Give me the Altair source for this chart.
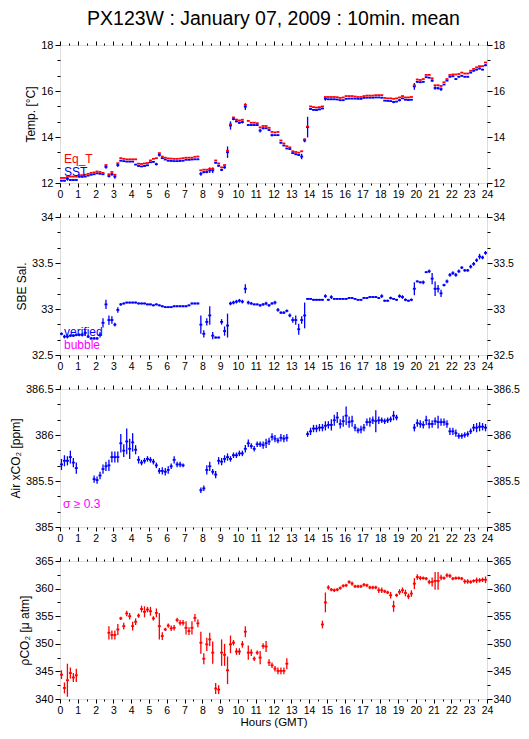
import altair as alt
import pandas as pd

FONT = "Liberation Sans"
RED = "#ff0000"
BLUE = "#0000ff"
MAGENTA = "#ff00ff"

# 10-minute slots (centres), hours GMT
HOURS = [(i + 0.5) / 6 for i in range(144)]
N = None

SST = [
    12.10, 12.10, 12.18, 12.13, 12.13, 12.13,
    12.27, 12.27, 12.28, 12.32, 12.36, 12.38,
    12.42, 12.40, 12.38, 12.70, 12.30, 12.38,
    12.28, 12.78, 12.97, 12.95, 12.93, 12.93,
    12.93, 12.80, 12.74, 12.72, 12.74, 12.77,
    12.90, 12.92, 12.82, 13.22, 13.08, 13.02,
    12.97, 12.96, 12.95, 12.95, 12.96, 12.97,
    13.01, 13.01, 13.02, 13.03, 13.03, 12.40,
    12.47, 12.48, 12.55, 12.55, 12.88, 12.75,
    12.57, 12.68, 13.34, 14.50, 14.78, 14.68,
    14.62, 14.65, 15.32, 14.52, 14.52, 14.52,
    14.52, 14.28, 14.38, 14.38, 14.30, 14.08,
    14.08, 14.08, 13.75, 13.63, 13.50, 13.48,
    13.30, 13.25, 13.22, 13.15, 13.85, 14.43,
    15.22, 15.18, 15.17, 15.20, 15.24, 15.66,
    15.64, 15.64, 15.64, 15.63, 15.60, 15.60,
    15.66, 15.67, 15.67, 15.67, 15.66, 15.66,
    15.70, 15.71, 15.71, 15.71, 15.72, 15.72,
    15.71, 15.58, 15.57, 15.56, 15.52, 15.54,
    15.60, 15.68, 15.62, 15.61, 15.62, 16.20,
    16.40, 16.38, 16.40, 16.60, 16.58, 16.45,
    16.13, 16.12, 16.08, 16.28, 16.45, 16.62,
    16.64, 16.52, 16.62, 16.66, 16.62, 16.62,
    16.80, 16.88, 16.93, 16.98, 16.93, 17.12,
]
SST_ERR = [
    .03, .03, .08, .03, .03, .03,
    .02, .02, .02, .02, .02, .02,
    .02, .02, .03, .08, .06, .06,
    .10, .08, .02, .02, .02, .02,
    .02, .02, .02, .02, .02, .02,
    .02, .03, .06, .07, .03, .02,
    .02, .02, .02, .02, .02, .02,
    .02, .02, .02, .02, .02, .08,
    .05, .06, .12, .12, .03, .04,
    .05, .06, .25, .18, .05, .04,
    .05, .06, .15, .03, .03, .03,
    .03, .08, .04, .03, .04, .06,
    .02, .03, .03, .02, .02, .03,
    .03, .03, .04, .12, .08, .45,
    .03, .03, .03, .03, .03, .08,
    .02, .02, .02, .02, .02, .02,
    .02, .02, .02, .02, .02, .02,
    .02, .02, .02, .02, .02, .02,
    .02, .02, .02, .02, .05, .02,
    .05, .02, .02, .02, .02, .15,
    .04, .03, .03, .02, .03, .06,
    .08, .06, .08, .02, .02, .03,
    .03, .03, .03, .03, .03, .03,
    .03, .03, .03, .04, .03, .04,
]
EQ_T = [
    12.22, 12.22, 12.26, 12.28, 12.28, 12.28,
    12.34, 12.34, 12.36, 12.40, 12.44, 12.46,
    12.50, 12.48, 12.44, 12.78, 12.38, 12.48,
    12.36, 12.86, 13.08, 13.05, 13.03, 13.03,
    13.03, 13.03, 12.84, 12.83, 12.85, 12.87,
    12.98, 13.05, 13.08, 13.30, 13.15, 13.10,
    13.07, 13.06, 13.05, 13.05, 13.06, 13.08,
    13.10, 13.10, 13.10, 13.14, 13.15, 12.55,
    12.58, 12.58, 12.62, 12.62, 12.98, 12.85,
    12.68, 12.78, 13.40, 14.55, 14.85, 14.76,
    14.72, 14.75, 15.40, 14.70, 14.62, 14.62,
    14.60, 14.42, 14.48, 14.48, 14.40, 14.22,
    14.20, 14.22, 13.85, 13.72, 13.60, 13.55,
    13.38, 13.35, 13.32, 13.38, 13.90, 14.45,
    15.33, 15.30, 15.28, 15.30, 15.33, 15.74,
    15.74, 15.74, 15.74, 15.73, 15.70, 15.72,
    15.78, 15.78, 15.78, 15.76, 15.74, 15.74,
    15.78, 15.80, 15.80, 15.80, 15.82, 15.82,
    15.82, 15.70, 15.68, 15.68, 15.66, 15.68,
    15.72, 15.78, 15.72, 15.72, 15.74, 16.25,
    16.50, 16.48, 16.52, 16.70, 16.70, 16.55,
    16.25, 16.25, 16.22, 16.38, 16.52, 16.70,
    16.72, 16.72, 16.74, 16.80, 16.76, 16.76,
    16.88, 16.96, 17.03, 17.08, 17.08, 17.24,
]
SAL = [
    32.73, 32.70, 32.70, 32.71, 32.71, 32.72,
    32.72, 32.72, 32.74, 32.70, 32.68, 32.68,
    32.68, 32.72, 32.85, 33.05, 32.88, 32.88,
    32.83, 32.99, 33.05, 33.06, 33.07, 33.07,
    33.07, 33.07, 33.06, 33.06, 33.06, 33.05,
    33.05, 33.04, 33.05, 33.04, 33.03, 33.02,
    33.02, 33.02, 33.03, 33.03, 33.03, 33.03,
    33.03, 33.04, 33.06, 33.06, 33.06, 32.83,
    32.73, 32.86, 32.93, 32.71, 32.69, 32.69,
    32.86, 32.76, 32.82, 33.06, 33.07, 33.08,
    33.09, 33.08, 33.22, 33.07, 33.06, 33.05,
    33.05, 33.04, 33.05, 33.06, 33.04, 33.06,
    33.07, 32.99, 32.96, 32.96, 32.98, 32.93,
    32.88, 32.88, 32.78, 32.88, 32.93, 33.11,
    33.11, 33.10, 33.10, 33.10, 33.10, 33.14,
    33.10, 33.13, 33.11, 33.11, 33.11, 33.11,
    33.11, 33.12, 33.12, 33.11, 33.10, 33.10,
    33.12, 33.12, 33.13, 33.13, 33.13, 33.12,
    33.14, 33.09, 33.09, 33.12, 33.11, 33.10,
    33.14, 33.13, 33.10, 33.09, 33.10, 33.22,
    33.30, 33.29, 33.29, 33.40, 33.41, 33.33,
    33.22, 33.22, 33.17, 33.26, 33.30, 33.37,
    33.39, 33.37, 33.41, 33.45, 33.42, 33.42,
    33.46, 33.49, 33.53, 33.57, 33.56, 33.61,
]
SAL_ERR = [
    .015, .02, .02, .015, .015, .015,
    .015, .02, .03, .015, .015, .015,
    .015, .03, .05, .05, .05, .04,
    .02, .03, .015, .01, .01, .01,
    .01, .01, .01, .01, .01, .01,
    .01, .01, .01, .01, .01, .01,
    .01, .01, .01, .01, .01, .01,
    .01, .01, .01, .01, .01, .10,
    .04, .04, .10, .04, .01, .01,
    .03, .05, .13, .02, .02, .02,
    .02, .02, .05, .02, .015, .01,
    .01, .015, .015, .02, .015, .015,
    .02, .02, .015, .015, .015, .02,
    .03, .05, .06, .04, .14, .01,
    .01, .01, .01, .01, .01, .02,
    .01, .02, .01, .01, .01, .01,
    .01, .01, .01, .01, .01, .01,
    .01, .01, .01, .01, .01, .01,
    .02, .01, .01, .015, .01, .01,
    .02, .02, .015, .01, .015, .07,
    .01, .01, .02, .01, .02, .06,
    .08, .04, .04, .015, .02, .02,
    .02, .02, .02, .015, .015, .015,
    .02, .02, .02, .03, .02, .02,
]
XCO2 = [
    385.68, 385.72, 385.72, 385.76, 385.70, 385.64,
    N, N, N, N, N, 385.52,
    385.51, 385.56, 385.63, 385.66, 385.67, 385.76,
    385.76, 385.76, 385.91, 385.83, 385.93, 385.85,
    385.92, 385.84, 385.73, 385.70, 385.72, 385.74,
    385.73, 385.71, 385.67, 385.61, 385.61, 385.60,
    385.62, 385.66, 385.73, 385.68, 385.68, 385.67,
    N, N, N, N, N, 385.40,
    385.42, 385.62, 385.66, 385.60, 385.57, 385.72,
    385.71, 385.74, 385.76, 385.74, 385.78, 385.78,
    385.80, 385.80, 385.85, 385.91, 385.88, 385.85,
    385.90, 385.90, 385.89, 385.91, 385.93, 385.98,
    385.96, 385.94, 385.97, 385.96, 385.97, N,
    N, N, N, N, N, 386.01,
    386.04, 386.07, 386.07, 386.08, 386.08, 386.10,
    386.11, 386.11, 386.16, 386.19, 386.12, 386.15,
    386.21, 386.14, 386.15, 386.08, 386.05, 386.06,
    386.08, 386.14, 386.14, 386.16, 386.15, 386.16,
    386.16, 386.15, 386.16, 386.17, 386.21, 386.19,
    N, N, N, N, N, 386.08,
    386.13, 386.12, 386.11, 386.16, 386.12, 386.12,
    386.15, 386.14, 386.14, 386.14, 386.12, 386.04,
    386.04, 386.02, 385.99, 385.99, 386.00, 386.01,
    386.04, 386.08, 386.08, 386.09, 386.09, 386.08,
]
XCO2_ERR = [
    .06, .06, .05, .07, .05, .06,
    0, 0, 0, 0, 0, .04,
    .04, .04, .05, .05, .06, .06,
    .06, .06, .10, .07, .14, .11,
    .10, .05, .04, .03, .03, .03,
    .03, .03, .03, .03, .04, .04,
    .04, .03, .04, .03, .03, .02,
    0, 0, 0, 0, 0, .03,
    .03, .05, .05, .03, .04, .04,
    .04, .04, .04, .03, .03, .03,
    .03, .03, .04, .04, .03, .03,
    .03, .03, .04, .05, .04, .04,
    .04, .03, .04, .04, .04, 0,
    0, 0, 0, 0, 0, .03,
    .04, .04, .04, .04, .04, .05,
    .04, .06, .06, .06, .05, .06,
    .10, .06, .06, .04, .03, .04,
    .04, .04, .05, .04, .12, .04,
    .03, .03, .03, .03, .05, .03,
    0, 0, 0, 0, 0, .04,
    .04, .04, .04, .05, .05, .04,
    .04, .07, .04, .04, .04, .04,
    .04, .04, .03, .03, .03, .03,
    .03, .04, .05, .05, .04, .04,
]
PCO2 = [
    344.4, 342.0, 343.4, 344.7, 343.9, 344.3,
    N, N, N, N, N, N,
    N, N, N, N, 352.0, 351.6,
    351.6, 352.6, 354.6, 353.2, 355.5, 355.0,
    353.2, 354.0, 355.1, 356.3, 355.8, 356.2,
    355.9, 354.6, 355.6, 353.2, 351.4, 352.6,
    353.3, 352.8, 352.9, 354.3, 353.8, 353.8,
    352.9, 352.3, 352.9, 354.7, 353.7, 350.2,
    347.3, 349.9, 350.8, 348.4, 341.9, 341.7,
    348.4, 348.0, 345.2, 349.9, 350.2, 348.6,
    348.6, 349.9, 352.2, 348.4, 348.4, 347.3,
    348.4, 347.5, 349.6, 349.5, 346.6, 346.1,
    345.5, 345.1, 345.1, 345.1, 346.4, N,
    N, N, N, N, N, N,
    N, N, N, N, 353.5, 357.5,
    360.2, 359.8, 359.7, 359.8, 360.1, 360.5,
    360.6, 361.2, 360.9, 360.4, 360.4, 360.4,
    360.7, 360.6, 360.2, 360.2, 360.2, 359.7,
    359.7, 359.5, 359.3, 358.8, 356.8, 358.8,
    359.4, 359.7, 359.2, 358.6, 359.1, 360.9,
    362.1, 361.9, 361.9, 361.8, 361.2, 361.2,
    361.4, 361.4, 362.0, 361.9, 362.4, 362.3,
    361.8, 361.9, 361.9, 361.8, 361.3, 361.3,
    361.2, 361.4, 361.5, 361.5, 361.6, 361.6,
]
PCO2_ERR = [
    .8, 1.0, 3.0, 1.0, .8, 1.2,
    0, 0, 0, 0, 0, 0,
    0, 0, 0, 0, 1.2, .8,
    .8, 1.0, .3, .6, .5, .6,
    .8, .6, .4, .6, 1.0, .5,
    .8, .4, .8, 2.4, .7, .3,
    .4, .5, .5, .4, .5, .5,
    1.2, .7, 1.2, .7, .7, 2.0,
    1.0, 1.2, 1.2, 2.0, 1.0, .8,
    2.4, 2.0, 2.5, 1.6, .5, .6,
    .6, .6, 1.0, 1.3, .6, .4,
    .4, 1.2, .5, 1.0, .6, .5,
    .5, .6, .6, .6, 1.0, 0,
    0, 0, 0, 0, 0, 0,
    0, 0, 0, 0, .7, 1.8,
    .4, .3, .3, .3, .3, .3,
    .3, .3, .4, .3, .3, .3,
    .3, .3, .3, .3, .3, .5,
    .5, .3, .3, .6, 1.0, .3,
    .5, .5, .6, .5, .6, 1.0,
    .5, .4, .3, .3, .4, .8,
    1.6, 1.6, .5, .3, .4, .4,
    .3, .3, .3, .3, .4, .4,
    .3, .3, .5, .4, .4, .6,
]

X_MAJOR = list(range(25))
X_MINOR = [h + 0.5 for h in range(24)]
W, H = 427, 138


def frame(vals, errs):
    rows = []
    for t, v, e in zip(HOURS, vals, errs):
        if v is None:
            continue
        rows.append({"t": t, "t0": t - 1 / 12, "t1": t + 1 / 12,
                     "v": v, "lo": v - e, "hi": v + e})
    return pd.DataFrame(rows)


def axis(orient, values, size, labels=False, title=None, fs=11, tfs=12, tpad=3,
         lpad=2):
    kw = dict(orient=orient, values=values, tickSize=size, labels=labels,
              domain=False, grid=False, ticks=True, tickColor="black",
              tickWidth=1, title=title)
    if labels:
        kw.update(labelFont=FONT, labelFontSize=fs, labelColor="black",
                  format="~g", labelPadding=lpad, labelOverlap=False,
                  labelFlush=False)
    if title:
        kw.update(titleFont=FONT, titleFontSize=tfs, titleFontWeight="normal",
                  titleColor="black", titlePadding=tpad)
    return alt.Axis(**kw)


def panel(series, ydom, ymaj, ymin, ytitle, texts, xtitle=None):
    xs = alt.Scale(domain=[0, 24], nice=False, zero=False)
    ys = alt.Scale(domain=ydom, nice=False, zero=False)
    layers = []
    first = True
    for df, color, witherr in series:
        if witherr:
            layers.append(
                alt.Chart(df).mark_rule(color=color, strokeWidth=1.3).encode(
                    x=alt.X("t:Q", scale=xs, axis=None),
                    y=alt.Y("lo:Q", scale=ys, axis=None),
                    y2="hi:Q",
                ))
        if first:
            xa = axis("bottom", X_MAJOR, 4, labels=True, title=xtitle, fs=10.5,
                      tfs=11.5, tpad=1)
            ya = axis("left", ymaj, 5, labels=True, title=ytitle, fs=11)
            first = False
        else:
            xa = None
            ya = None
        layers.append(
            alt.Chart(df).mark_rule(color=color, strokeWidth=1.8).encode(
                x=alt.X("t0:Q", scale=xs, axis=xa),
                x2="t1:Q",
                y=alt.Y("v:Q", scale=ys, axis=ya),
            ))
    dummy = pd.DataFrame({"x": [0.5], "y": [ydom[0] + (ydom[1] - ydom[0]) / 2]})
    base = alt.Chart(dummy).mark_point(opacity=0, size=1)
    layers.append(base.encode(
        x=alt.X("x:Q", scale=xs, axis=axis("top", X_MAJOR, 4)),
        y=alt.Y("y:Q", scale=ys, axis=axis("right", ymaj, 5, labels=True, fs=10.5,
                                              lpad=1)),
    ))
    layers.append(base.encode(
        x=alt.X("x:Q", scale=xs, axis=axis("bottom", X_MINOR, 2)),
        y=alt.Y("y:Q", scale=ys, axis=axis("left", ymin, 3)),
    ))
    layers.append(base.encode(
        x=alt.X("x:Q", scale=xs, axis=axis("top", X_MINOR, 2)),
        y=alt.Y("y:Q", scale=ys, axis=axis("right", ymin, 3)),
    ))
    for txt, color, px, py in texts:
        layers.append(
            alt.Chart(pd.DataFrame({"s": [txt]})).mark_text(
                align="left", baseline="middle", font=FONT, fontSize=12,
                color=color).encode(x=alt.value(px), y=alt.value(py), text="s:N"))
    return alt.layer(*layers).resolve_scale(x="independent", y="independent").properties(
        width=W, height=H)


p1 = panel(
    [(frame(SST, SST_ERR), BLUE, True), (frame(EQ_T, [0] * 144), RED, False)],
    [12, 18], [12, 14, 16, 18],
    [12 + k * 2 / 3 for k in range(10) if k % 3 != 0],
    "Temp. [°C]",
    [("Eq_T", RED, 4, 114), ("SST", BLUE, 4, 127)],
).properties(title=alt.TitleParams(
    "PX123W : January 07, 2009 : 10min. mean", font=FONT, fontSize=19.5,
    fontWeight="normal", color="black", anchor="middle", offset=10))

p2 = panel(
    [(frame(SAL, SAL_ERR), BLUE, True)],
    [32.5, 34], [32.5, 33, 33.5, 34],
    [32.5 + k / 6 for k in range(10) if k % 3 != 0],
    "SBE Sal.",
    [("verified", BLUE, 4, 115), ("bubble", MAGENTA, 4, 128)],
)

p3 = panel(
    [(frame(XCO2, XCO2_ERR), BLUE, True)],
    [385, 386.5], [385, 385.5, 386, 386.5],
    [385 + k / 6 for k in range(10) if k % 3 != 0],
    "Air xCO₂ [ppm]",
    [("σ ≥ 0.3", MAGENTA, 3, 115)],
)

p4 = panel(
    [(frame(PCO2, PCO2_ERR), RED, True)],
    [340, 365], [340, 345, 350, 355, 360, 365],
    [342.5 + 5 * k for k in range(5)],
    "ρCO₂ [μ atm]",
    [],
    xtitle="Hours (GMT)",
)

chart = alt.vconcat(p1, p2, p3, p4, spacing=10).properties(
    padding={"left": 0, "top": 0, "right": 0, "bottom": 0}
).configure_view(stroke="black", strokeWidth=1).configure(background="white")

chart.save("out.html", embed_options={"renderer": "svg", "actions": False})
